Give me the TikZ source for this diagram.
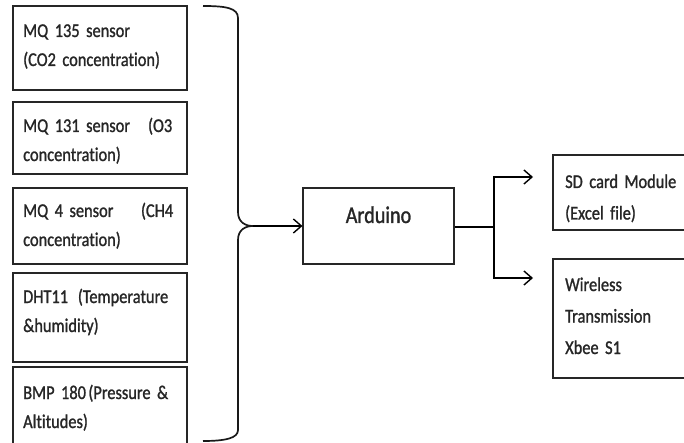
\documentclass[tikz,border=0pt]{standalone}
\usepackage{fontspec}
\setmainfont{Carlito}[FakeStretch=0.84, FakeBold=1.2, Ligatures=NoCommon]
\usetikzlibrary{arrows.meta,calc}
\newcommand\tightsp{\spaceskip=3.2pt plus 2pt minus 0.5pt\xspaceskip=3.2pt plus 2pt}
\begin{document}
\begin{tikzpicture}[x=1pt,y=-1pt,
  sbox/.style={draw=black!85, line width=1.1pt, inner sep=0pt},
  ltxt/.style={anchor=base west, inner sep=0pt, text width=170pt, align=left,
    text=black!85, font=\fontsize{19.5}{29}\selectfont\tightsp},
  rtxt/.style={anchor=base west, inner sep=0pt, text width=125pt, align=left,
    text=black!85, font=\fontsize{19.5}{31.5}\selectfont\tightsp},
  arr/.style={-{Straight Barb[length=8pt,width=14pt,line width=1.4pt]}, line width=1.4pt}]
\useasboundingbox (0,0) rectangle (684,443);
% left sensor boxes
\node[sbox, minimum width=174pt, minimum height=84pt] (s1) at (100,48) {};
\node[sbox, minimum width=174pt, minimum height=72pt] (s2) at (100,138) {};
\node[sbox, minimum width=174pt, minimum height=76pt] (s3) at (100,226) {};
\node[sbox, minimum width=174pt, minimum height=89pt] (s4) at (100,317.5) {};
\node[sbox, minimum width=174pt, minimum height=80pt] (s5) at (100,407) {};
\node[ltxt] (t1) at (23,37) {MQ 135 sensor\\(CO2 concentration)};
\node[ltxt] (t2) at (23,132) {\makebox[149pt][l]{MQ 131 sensor\hfill(O3}\\concentration)};
\node[ltxt] (t3) at (23,217) {\makebox[150pt][l]{MQ 4 sensor\hfill(CH4}\\concentration)};
\node[ltxt] (t4) at (23,303) {\makebox[145pt][l]{DHT11\hfill(Temperature}\\\&humidity)};
\node[ltxt] (t5) at (23,399) {\makebox[145pt][l]{BMP 180\hfill(Pressure \&}\\Altitudes)};
% brace
\coordinate (cusp) at (253,226);
\draw[line width=1.7pt, black!90] (203,6) .. controls (226,6) and (238,8) .. (238,18)
  -- (238,212) .. controls (238,222) and (245,226) .. (cusp)
  .. controls (245,226) and (238,230) .. (238,240)
  -- (238,430) .. controls (238,438) and (226,441) .. (203,441);
% Arduino
\node[sbox, minimum width=151pt, minimum height=76pt] (ard) at (378.5,226) {};
\node[anchor=base, inner sep=0pt, text=black!85, font=\fontsize{24}{28}\selectfont] (ardt) at (378.5,223) {Arduino};
\draw[arr] (cusp) -- (ard);
% outputs
\node[sbox, minimum width=139pt, minimum height=75pt] (sd) at (622.5,192.5) {};
\node[sbox, minimum width=139pt, minimum height=119pt] (wl) at (622.5,318.5) {};
\node[rtxt] (sdt) at (565,188) {SD card Module\\(Excel file)};
\node[rtxt] (wlt) at (565,291) {Wireless\\Transmission\\Xbee S1};
\coordinate (j) at (494,227);
\coordinate (sdin) at (533,177);
\coordinate (wlin) at (533,278);
\draw[line width=2.2pt] (ard.east |- j) -- (j);
\draw[arr] (j) |- (sdin);
\draw[arr] (j) |- (wlin);
\end{tikzpicture}
\end{document}
